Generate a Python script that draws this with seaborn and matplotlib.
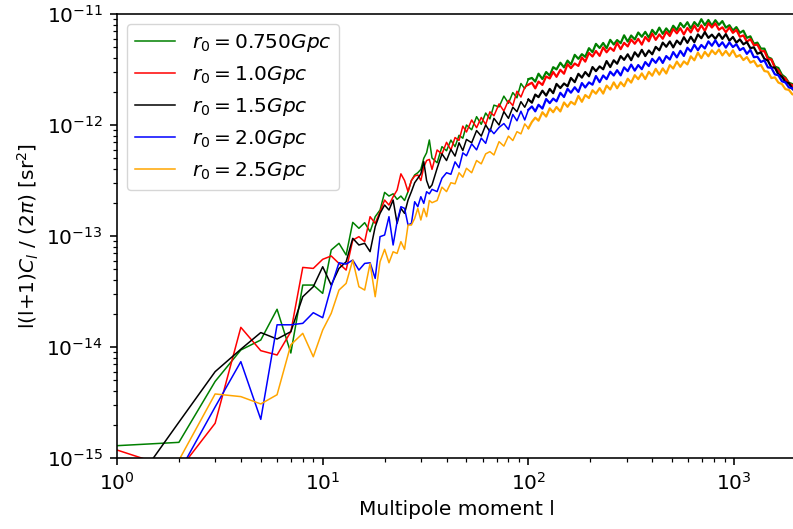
import matplotlib
matplotlib.use("Agg")
import matplotlib.pyplot as plt
import numpy as np
import pandas as pd
import seaborn as sns

# ---------------- data (log10 of l(l+1)C_l/2pi) ----------------
ell_low = [1, 2, 3, 4, 5, 6, 7, 8, 9, 10, 11, 12, 13, 14, 15, 16, 17, 18, 19, 20,
           21, 22, 23, 24, 25, 26, 27, 28, 29, 30, 31, 32, 33]
ell_mid = [34, 36, 38, 40, 42, 44, 46, 48, 50, 53, 56, 59, 62, 65, 68, 72, 76, 80, 84,
           88, 92, 96, 100]
ell_hi = [104, 108, 112, 117, 122, 127, 132, 137, 143, 149, 155, 161, 168, 175, 182, 189,
          197, 205, 213, 222, 231, 240, 250, 260, 270, 281, 292, 304, 316, 329, 342, 356,
          370, 385, 400, 416, 433, 450, 468, 487, 506, 527, 548, 570, 593, 616, 641, 667,
          693, 721, 750, 780, 811, 844, 877, 912, 949, 987, 1026, 1067, 1110, 1154, 1200,
          1248, 1298, 1350, 1404, 1460, 1518, 1579, 1642, 1708, 1776, 1847, 1921, 2000]

green_low = [-14.889, -14.859, -14.31, -14.027, -13.937, -13.66, -14.054, -13.442, -13.442,
             -13.517, -13.126, -13.066, -13.171, -12.877, -12.931, -12.88, -12.961, -12.826,
             -12.766, -12.607, -12.64, -12.62, -12.67, -12.64, -12.68, -12.60, -12.50, -12.45,
             -12.43, -12.40, -12.30, -12.25, -12.135]
green_mid = [-12.297, -12.340, -12.195, -12.232, -12.136, -12.195, -12.093, -12.119, -12.000,
             -12.043, -11.925, -11.994, -11.892, -11.945, -11.821, -11.837, -11.740, -11.804,
             -11.708, -11.755, -11.626, -11.673, -11.587]
green_hi = [-11.576, -11.609, -11.538, -11.586, -11.523, -11.555, -11.479, -11.499, -11.439, -11.481,
            -11.420, -11.455, -11.368, -11.404, -11.362, -11.386, -11.308, -11.344, -11.269, -11.306,
            -11.261, -11.309, -11.233, -11.275, -11.235, -11.263, -11.192, -11.249, -11.194, -11.229,
            -11.167, -11.205, -11.161, -11.213, -11.143, -11.183, -11.123, -11.179, -11.130, -11.169,
            -11.106, -11.144, -11.081, -11.120, -11.074, -11.131, -11.073, -11.109, -11.047, -11.101,
            -11.054, -11.105, -11.056, -11.098, -11.064, -11.123, -11.101, -11.149, -11.118, -11.170,
            -11.150, -11.215, -11.201, -11.268, -11.258, -11.312, -11.312, -11.389, -11.403, -11.474,
            -11.486, -11.547, -11.572, -11.620, -11.631, -11.687]

red_low = [-14.928, -15.11, -14.687, -13.823, -14.033, -14.072, -13.862, -13.283, -13.292,
           -13.21, -13.18, -13.247, -13.307, -13.037, -13.006, -13.051, -12.826, -12.886,
           -12.781, -12.676, -12.721, -12.646, -12.586, -12.44, -12.50, -12.60, -12.50, -12.46,
           -12.45, -12.50, -12.38, -12.32, -12.31]
red_mid = [-12.40, -12.225, -12.262, -12.156, -12.225, -12.113, -12.139, -12.010, -12.063,
           -11.955, -12.024, -11.932, -11.995, -11.881, -11.917, -11.810, -11.874, -11.778,
           -11.825, -11.696, -11.748, -11.662, -11.637]
red_hi = [-11.619, -11.670, -11.609, -11.639, -11.563, -11.581, -11.522, -11.566, -11.503, -11.538,
          -11.452, -11.488, -11.446, -11.468, -11.391, -11.429, -11.351, -11.383, -11.333, -11.377,
          -11.301, -11.345, -11.304, -11.332, -11.260, -11.317, -11.260, -11.292, -11.230, -11.268,
          -11.224, -11.276, -11.207, -11.246, -11.176, -11.233, -11.184, -11.223, -11.160, -11.198,
          -11.135, -11.174, -11.128, -11.184, -11.125, -11.166, -11.104, -11.157, -11.102, -11.153,
          -11.083, -11.122, -11.085, -11.142, -11.120, -11.164, -11.121, -11.170, -11.143, -11.205,
          -11.193, -11.250, -11.226, -11.281, -11.276, -11.337, -11.334, -11.406, -11.410, -11.485,
          -11.508, -11.564, -11.581, -11.627, -11.642, -11.697]

black_low = [-15.46, -14.677, -14.222, -14.02, -13.87, -13.928, -13.862, -13.547, -13.457,
             -13.277, -13.442, -13.292, -13.232, -13.021, -13.081, -13.066, -13.141, -12.916,
             -12.796, -12.721, -12.766, -12.676, -12.886, -12.751, -12.796, -12.676, -12.60,
             -12.52, -12.48, -12.44, -12.33, -12.50, -12.57]
black_mid = [-12.54, -12.39, -12.26, -12.32, -12.22, -12.28, -12.16, -12.23, -12.13, -12.16,
             -12.05, -12.10, -12.00, -12.06, -11.94, -12.00, -11.88, -11.94, -11.84, -11.88,
             -11.79, -11.84, -11.77]
black_hi = [-11.799, -11.726, -11.749, -11.691, -11.735, -11.675, -11.713, -11.630, -11.667, -11.626,
            -11.651, -11.576, -11.614, -11.539, -11.573, -11.523, -11.561, -11.478, -11.515, -11.472,
            -11.498, -11.424, -11.478, -11.417, -11.448, -11.379, -11.413, -11.363, -11.416, -11.345,
            -11.384, -11.323, -11.379, -11.329, -11.363, -11.296, -11.327, -11.258, -11.295, -11.247,
            -11.301, -11.240, -11.273, -11.209, -11.260, -11.205, -11.254, -11.184, -11.218, -11.163,
            -11.215, -11.186, -11.224, -11.177, -11.224, -11.181, -11.240, -11.207, -11.258, -11.228,
            -11.273, -11.253, -11.308, -11.300, -11.358, -11.346, -11.404, -11.420, -11.481, -11.483,
            -11.545, -11.564, -11.614, -11.623, -11.675, -11.695]

blue_low = [-15.3, -15.13, -14.54, -14.132, -14.652, -13.80, -13.80, -13.787, -13.691, -13.736,
            -13.457, -13.241, -13.253, -13.217, -13.307, -13.247, -13.241, -13.382, -13.006,
            -12.991, -12.826, -13.081, -12.871, -12.736, -12.751, -12.901, -12.886, -12.691,
            -12.736, -12.646, -12.706, -12.601, -12.62]
blue_mid = [-12.58, -12.60, -12.48, -12.43, -12.444, -12.332, -12.385, -12.251, -12.277, -12.17,
            -12.224, -12.118, -12.165, -12.036, -12.078, -12.022, -11.987, -12.04, -11.905,
            -11.962, -11.876, -11.955, -11.863]
blue_hi = [-11.833, -11.877, -11.818, -11.852, -11.766, -11.803, -11.762, -11.787, -11.710, -11.748,
           -11.674, -11.709, -11.660, -11.702, -11.622, -11.662, -11.616, -11.637, -11.559, -11.614,
           -11.554, -11.587, -11.520, -11.554, -11.506, -11.553, -11.481, -11.515, -11.456, -11.510,
           -11.460, -11.497, -11.433, -11.469, -11.404, -11.440, -11.390, -11.441, -11.379, -11.410,
           -11.343, -11.391, -11.332, -11.378, -11.304, -11.337, -11.277, -11.326, -11.279, -11.310,
           -11.247, -11.286, -11.237, -11.291, -11.255, -11.303, -11.255, -11.298, -11.272, -11.326,
           -11.306, -11.359, -11.323, -11.389, -11.385, -11.432, -11.418, -11.481, -11.485, -11.544,
           -11.552, -11.606, -11.617, -11.662, -11.669, -11.714]

orange_low = [-15.3, -15.02, -14.423, -14.447, -14.513, -14.43, -13.98, -13.877, -14.088,
              -13.847, -13.697, -13.487, -13.427, -13.217, -13.457, -13.487, -13.247, -13.547,
              -13.232, -13.12, -13.241, -13.142, -13.157, -13.051, -13.12, -12.901, -12.901,
              -12.841, -12.751, -12.856, -12.751, -12.826, -12.68]
orange_mid = [-12.70, -12.68, -12.56, -12.60, -12.52, -12.53, -12.43, -12.47, -12.39, -12.43,
              -12.32, -12.35, -12.26, -12.24, -12.27, -12.15, -12.19, -12.10, -12.14, -12.06,
              -12.08, -11.99, -12.03]
orange_hi = [-11.972, -11.934, -11.961, -11.885, -11.924, -11.850, -11.885, -11.838, -11.878, -11.797,
             -11.836, -11.791, -11.815, -11.738, -11.791, -11.730, -11.757, -11.687, -11.718, -11.668,
             -11.717, -11.645, -11.680, -11.616, -11.669, -11.615, -11.651, -11.583, -11.618, -11.551,
             -11.587, -11.535, -11.586, -11.521, -11.556, -11.494, -11.546, -11.490, -11.536, -11.461,
             -11.491, -11.429, -11.476, -11.427, -11.454, -11.381, -11.417, -11.348, -11.398, -11.341,
             -11.381, -11.327, -11.362, -11.320, -11.373, -11.332, -11.377, -11.327, -11.386, -11.370,
             -11.415, -11.388, -11.438, -11.422, -11.472, -11.459, -11.514, -11.520, -11.577, -11.571,
             -11.618, -11.631, -11.677, -11.684, -11.724, -11.728]

labels = [r"$r_0 = 0.750Gpc$", r"$r_0 = 1.0Gpc$", r"$r_0 = 1.5Gpc$",
          r"$r_0 = 2.0Gpc$", r"$r_0 = 2.5Gpc$"]
colors = ["green", "red", "black", "blue", "orange"]
series_low = [green_low + green_mid, red_low + red_mid, black_low + black_mid,
              blue_low + blue_mid, orange_low + orange_mid]
series_hi = [green_hi, red_hi, black_hi, blue_hi, orange_hi]

# ---------------- style ----------------
S = 1.45
plt.rcParams.update({
    "font.family": ["DejaVu Sans"],
    "font.size": 10 * S,
    "axes.linewidth": 0.8 * S,
    "xtick.major.size": 3.5 * S, "ytick.major.size": 3.5 * S,
    "xtick.minor.size": 2.0 * S, "ytick.minor.size": 2.0 * S,
    "xtick.major.width": 0.8 * S, "ytick.major.width": 0.8 * S,
    "xtick.minor.width": 0.6 * S, "ytick.minor.width": 0.6 * S,
    "xtick.major.pad": 3.5 * S, "ytick.major.pad": 3.5 * S,
    "legend.fontsize": 10 * S,
})

fig = plt.figure(figsize=(7.93, 5.29), dpi=100)
ax = fig.add_axes([117 / 793, 71 / 529, 679 / 793, 444 / 529])

ell_lowmid = ell_low + ell_mid
for lab, col, lo, hi in zip(labels, colors, series_low, series_hi):
    df_lo = pd.DataFrame({"l": ell_lowmid, "Cl": np.power(10.0, np.array(lo))})
    sns.lineplot(data=df_lo, x="l", y="Cl", color=col, linewidth=1.1,
                 estimator=None, sort=False, label=lab, ax=ax)
    # dense high-l part (many multipoles per pixel in the original -> solid band)
    df_hi = pd.DataFrame({"l": [ell_mid[-1]] + ell_hi,
                          "Cl": np.power(10.0, np.array([lo[-1]] + hi))})
    sns.lineplot(data=df_hi, x="l", y="Cl", color=col, linewidth=1.6,
                 estimator=None, sort=False, legend=False, ax=ax)

ax.set_xscale("log")
ax.set_yscale("log")
ax.set_xlim(1, 2000)
ax.set_ylim(1e-15, 1e-11)
ax.set_xlabel("Multipole moment l")
ax.set_ylabel(r"l(l+1)$C_l$ / (2$\pi$) [sr$^2$]")
ax.legend(loc="upper left")

fig.savefig("out.png", dpi=100)
